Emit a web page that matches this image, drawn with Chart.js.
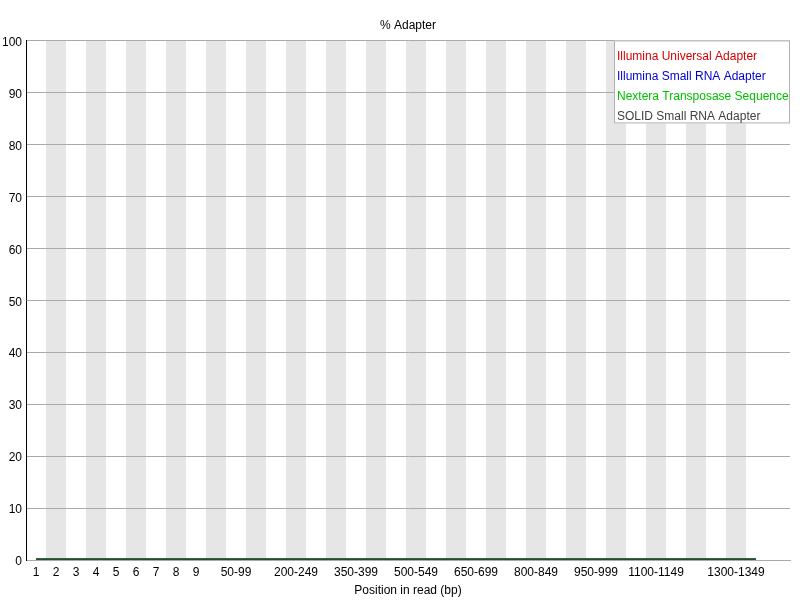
<!DOCTYPE html>
<html>
<head>
<meta charset="utf-8">
<script src="https://cdn.jsdelivr.net/npm/chart.js@4/dist/chart.umd.min.js"></script>
<style>
  html, body { margin: 0; padding: 0; background: #fff; }
  #wrap { width: 800px; height: 600px; }
</style>
</head>
<body>
<div id="wrap"><canvas id="adapterChart"></canvas></div>
<script>
// positions in read (FastQC grouped bins)
const positions = [
  "1", "2", "3", "4", "5", "6", "7", "8", "9", "10-49",
  "50-99", "100-149", "150-199", "200-249", "250-299", "300-349", "350-399",
  "400-449", "450-499", "500-549", "550-599", "600-649", "650-699", "700-749",
  "750-799", "800-849", "850-899", "900-949", "950-999", "1000-1049",
  "1050-1099", "1100-1149", "1150-1199", "1200-1249", "1250-1299",
  "1300-1349", "1350-1399",
];
// labels that are actually printed under the axis
const shownLabels = [
  "1", "2", "3", "4", "5", "6", "7", "8", "9", "50-99", "200-249", "350-399",
  "500-549", "650-699", "800-849", "950-999", "1100-1149", "1300-1349",
];

const illuminaUniversal = [0,0,0,0,0,0,0,0,0,0,0,0,0,0,0,0,0,0,0,0,0,0,0,0,0,0,0,0,0,0,0,0,0,0,0,0,0];
const illuminaSmallRna  = [0,0,0,0,0,0,0,0,0,0,0,0,0,0,0,0,0,0,0,0,0,0,0,0,0,0,0,0,0,0,0,0,0,0,0,0,0];
const nexteraTransposase = [0,0,0,0,0,0,0,0,0,0,0,0,0,0,0,0,0,0,0,0,0,0,0,0,0,0,0,0,0,0,0,0,0,0,0,0,0];
const solidSmallRna     = [0,0,0,0,0,0,0,0,0,0,0,0,0,0,0,0,0,0,0,0,0,0,0,0,0,0,0,0,0,0,0,0,0,0,0,0,0];

const seriesNames = [
  "Illumina Universal Adapter",
  "Illumina Small RNA Adapter",
  "Nextera Transposase Sequence",
  "SOLID Small RNA Adapter",
];
const yTicks = [0, 10, 20, 30, 40, 50, 60, 70, 80, 90, 100];

const FONT = "'Liberation Sans', Arial, sans-serif";
const legendColors = ["#d40000", "#0000d0", "#00c000", "#404040"];

function toPoints(values) {
  return values.map((v, i) => ({ x: i, y: v }));
}

// alternating grey stripes behind every other position
const stripes = {
  id: "stripes",
  beforeDraw(chart) {
    const { ctx, chartArea, scales } = chart;
    ctx.save();
    ctx.fillStyle = "#e6e6e6";
    for (let i = 1; i < positions.length; i += 2) {
      const x0 = scales.x.getPixelForValue(i - 0.5);
      const x1 = scales.x.getPixelForValue(i + 0.5);
      ctx.fillRect(x0, chartArea.top, x1 - x0, chartArea.bottom - chartArea.top);
    }
    ctx.restore();
  },
};

// boxed legend in the top right corner, text only
const boxLegend = {
  id: "boxLegend",
  afterDraw(chart) {
    const { ctx, chartArea } = chart;
    const w = 176, h = 83;
    const left = chartArea.right - w;
    const top = chartArea.top;
    ctx.save();
    ctx.fillStyle = "#fff";
    ctx.fillRect(left, top, w, h);
    ctx.strokeStyle = "#b0b0b0";
    ctx.lineWidth = 1;
    ctx.strokeRect(left + 0.5, top + 0.5, w - 1, h - 1);
    ctx.font = "12px " + FONT;
    ctx.textBaseline = "middle";
    ctx.textAlign = "left";
    chart.data.datasets.forEach((ds, i) => {
      ctx.fillStyle = legendColors[i];
      ctx.fillText(ds.label, left + 3, top + 16 + i * 20);
    });
    ctx.restore();
  },
};

new Chart(document.getElementById("adapterChart"), {
  type: "line",
  data: {
    datasets: [
      { label: seriesNames[0], data: toPoints(illuminaUniversal), borderColor: "#d40000", order: 3 },
      { label: seriesNames[1], data: toPoints(illuminaSmallRna), borderColor: "#0000d0", order: 2 },
      { label: seriesNames[2], data: toPoints(nexteraTransposase), borderColor: "#00c000", order: 1 },
      { label: seriesNames[3], data: toPoints(solidSmallRna), borderColor: "rgba(50,50,50,0.8)", order: 0 },
    ].map((ds) => ({ ...ds, borderWidth: 3, pointRadius: 0, tension: 0, fill: false })),
  },
  options: {
    responsive: true,
    maintainAspectRatio: false,
    animation: false,
    layout: { padding: { left: 0, right: 10, top: 0, bottom: 0 } },
    plugins: {
      legend: { display: false },
      tooltip: { enabled: false },
      title: {
        display: true,
        fullSize: false,
        text: "% Adapter",
        color: "#000",
        font: { family: FONT, size: 12, weight: "normal" },
        padding: { top: 18, bottom: 8 },
      },
    },
    scales: {
      x: {
        type: "linear",
        min: -0.5,
        max: 37.7,
        afterBuildTicks(scale) {
          scale.ticks = positions.map((p, i) => ({ value: i }));
        },
        afterFit(scale) {
          scale.height = 40;
        },
        ticks: {
          autoSkip: false,
          maxRotation: 0,
          padding: 5,
          color: "#000",
          font: { family: FONT, size: 12 },
          callback: (v) => (shownLabels.includes(positions[v]) ? positions[v] : ""),
        },
        grid: { display: false, drawTicks: false },
        border: { display: true, color: "#aaa" },
        title: {
          display: true,
          text: "Position in read (bp)",
          color: "#000",
          font: { family: FONT, size: 12 },
          padding: { top: 0, bottom: 2 },
        },
      },
      y: {
        min: 0,
        max: 100,
        afterBuildTicks(scale) {
          scale.ticks = yTicks.map((v) => ({ value: v }));
        },
        afterFit(scale) {
          scale.width = 26;
        },
        ticks: {
          padding: 4,
          labelOffset: 2,
          color: "#000",
          font: { family: FONT, size: 12 },
        },
        grid: { color: "#aaa", drawTicks: false },
        border: { display: true, color: "#000" },
      },
    },
  },
  plugins: [stripes, boxLegend],
});
</script>
</body>
</html>
